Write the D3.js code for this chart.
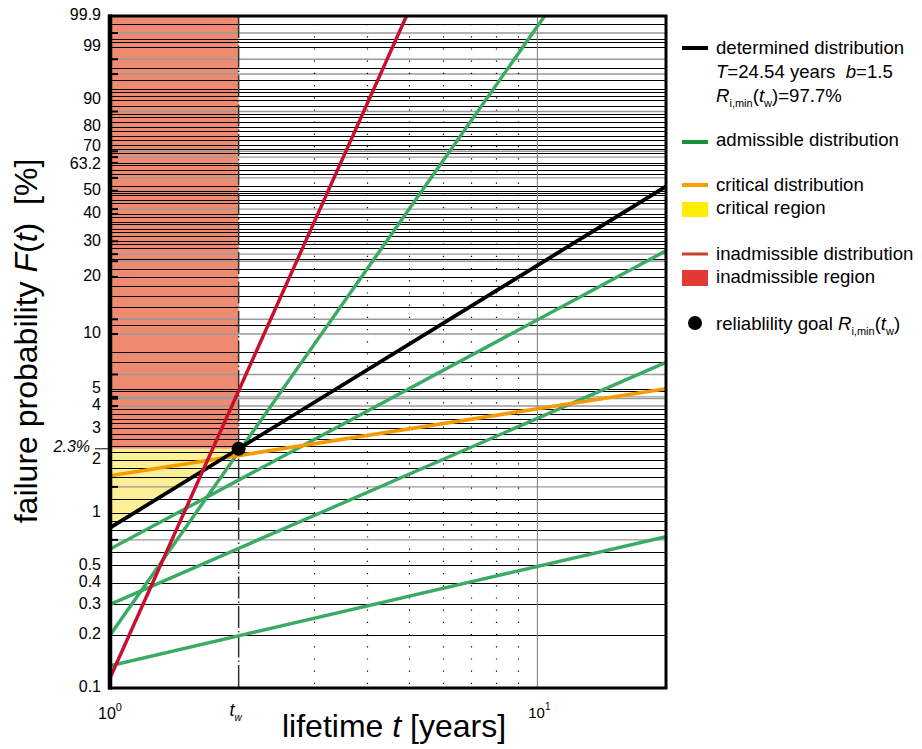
<!DOCTYPE html>
<html>
<head>
<meta charset="utf-8">
<script src="https://cdn.jsdelivr.net/npm/d3@7"></script>
<style>
  body { margin: 0; background: #fff; }
  svg { font-family: 'Liberation Sans', Arial, sans-serif; }
</style>
</head>
<body>
<svg id="chart" width="922" height="749"></svg>
<script>
// Weibull probability plot data
const yLabels = [99.9, 99, 90, 80, 70, 63.2, 50, 40, 30, 20, 10, 5, 4, 3, 2, 1, 0.5, 0.4, 0.3, 0.2, 0.1];
const gridBlack = [99.8, 99.4, 99.25, 99, 97, 95, 93, 92, 91, 90, 88, 85, 84, 82, 80, 78, 76, 74, 72, 70, 68,
    63.2, 62, 60, 58, 52, 50, 49, 48, 46, 44.5, 40, 38.7, 37, 36, 34.3, 33, 31.7, 30, 29, 27.8, 24.7, 22, 20,
    18, 16, 14, 11.2, 8, 7, 5, 4.85, 3.85, 3.6, 3.4, 3.2, 3, 2.8, 2.6, 2.4, 2.2, 2, 1.8, 1.6, 1.2, 1, 0.9,
    0.8, 0.6, 0.5, 0.4, 0.3, 0.2];
const gridGray = [99.6, 98, 96, 86, 68.8, 66, 56, 42, 26, 24, 12, 10, 6, 4.5, 4.4, 4, 1.4, 0.7];
const xDotted = [3, 4, 5, 6, 7, 8, 9];
const tw = 2;
const goalF = 2.3;

// each line: two end points [t, F%] (straight lines on Weibull paper)
const determinedLine = [[1, 0.82], [20, 52]];
const criticalLine = [[1, 1.62], [20, 5]];
const inadmissibleLine = [[1, 0.114], [4.94, 99.9]];
const admissibleLines = [
    [[1, 0.2], [10.4, 99.9]],
    [[1, 0.62], [20, 27]],
    [[1, 0.3], [20, 7]],
    [[1, 0.134], [20, 0.73]]
];

const svg = d3.select('#chart');
const pL = 110, pR = 666, pT = 16, pB = 688;

const weib = p => Math.log(-Math.log(1 - p / 100));
const xScale = d3.scaleLog().domain([1, 20]).range([pL, pR]);
const yLin = d3.scaleLinear().domain([weib(0.1), weib(99.9)]).range([pB, pT]);
const yScale = p => yLin(weib(p));

svg.append('defs').append('clipPath').attr('id', 'plot-clip')
    .append('rect').attr('x', pL).attr('y', pT)
    .attr('width', pR - pL).attr('height', pB - pT);

const g = svg.append('g');

// inadmissible region
g.append('rect')
    .attr('x', xScale(1)).attr('y', pT)
    .attr('width', xScale(tw) - xScale(1))
    .attr('height', yScale(goalF) - pT)
    .attr('fill', '#ed8a6f');

// critical region: between goal level and determined line
const blackAt = t => {
    const [a, b] = determinedLine;
    const f = (Math.log(t) - Math.log(a[0])) / (Math.log(b[0]) - Math.log(a[0]));
    return weib(a[1]) + f * (weib(b[1]) - weib(a[1]));
};
g.append('path')
    .attr('d', `M${xScale(1)},${yScale(goalF)} L${xScale(tw)},${yScale(goalF)} L${xScale(1)},${yLin(blackAt(1))} Z`)
    .attr('fill', '#fcf096');

// horizontal grid
g.selectAll('.grid-gray').data(gridGray).enter().append('line')
    .attr('x1', pL).attr('x2', pR)
    .attr('y1', d => yScale(d)).attr('y2', d => yScale(d))
    .attr('stroke', '#9a9a9a').attr('stroke-width', 1.4);
g.selectAll('.grid-black').data(gridBlack).enter().append('line')
    .attr('x1', pL).attr('x2', pR)
    .attr('y1', d => Math.round(yScale(d)) + 0.5).attr('y2', d => Math.round(yScale(d)) + 0.5)
    .attr('stroke', '#000').attr('stroke-width', 1);

// vertical grid
g.selectAll('.vdot').data(xDotted).enter().append('line')
    .attr('x1', d => Math.round(xScale(d)) + 0.5).attr('x2', d => Math.round(xScale(d)) + 0.5)
    .attr('y1', pT + 8).attr('y2', pB)
    .attr('stroke', '#000').attr('stroke-width', 1.2)
    .attr('stroke-dasharray', '1.2,11');
g.append('line')
    .attr('x1', xScale(10)).attr('x2', xScale(10))
    .attr('y1', pT).attr('y2', pB)
    .attr('stroke', '#777').attr('stroke-width', 1);
g.append('line')
    .attr('x1', xScale(tw)).attr('x2', xScale(tw))
    .attr('y1', pT).attr('y2', pB)
    .attr('stroke', '#333').attr('stroke-width', 1.5)
    .attr('stroke-dasharray', '22,3,1.5,3');

// left ticks
g.selectAll('.ytick').data(gridGray.concat([63.2, 50, 40, 30, 20])).enter().append('line')
    .attr('x1', pL).attr('x2', pL + 8)
    .attr('y1', d => yScale(d)).attr('y2', d => yScale(d))
    .attr('stroke', '#000').attr('stroke-width', 2);

// distribution lines
const line = d3.line().x(d => xScale(d[0])).y(d => yScale(d[1]));
const lines = g.append('g').attr('clip-path', 'url(#plot-clip)');
admissibleLines.forEach(l => {
    lines.append('path').datum(l).attr('d', line)
        .attr('fill', 'none').attr('stroke', '#3aaa64').attr('stroke-width', 3.4);
});
lines.append('path').datum(criticalLine).attr('d', line)
    .attr('fill', 'none').attr('stroke', '#f59a00').attr('stroke-width', 3.6);
lines.append('path').datum(determinedLine).attr('d', line)
    .attr('fill', 'none').attr('stroke', '#000').attr('stroke-width', 3.8);
lines.append('path').datum(inadmissibleLine).attr('d', line)
    .attr('fill', 'none').attr('stroke', '#c8102e').attr('stroke-width', 3.4);

// reliability goal point
g.append('circle')
    .attr('cx', xScale(tw)).attr('cy', yScale(goalF)).attr('r', 7)
    .attr('fill', '#000');

// frame
g.append('rect')
    .attr('x', pL).attr('y', pT)
    .attr('width', pR - pL).attr('height', pB - pT)
    .attr('fill', 'none').attr('stroke', '#000').attr('stroke-width', 3);
g.append('line')
    .attr('x1', pL).attr('x2', pL).attr('y1', pT - 1.5).attr('y2', pB + 1.5)
    .attr('stroke', '#000').attr('stroke-width', 4.5);

// y labels (70 / 63.2 sit tight, nudged apart as in the picture)
const nudge = { 70: -2, 63.2: 2 };
g.selectAll('.ylab').data(yLabels).enter().append('text')
    .attr('x', 101).attr('y', d => yScale(d) + (nudge[d] || 0))
    .attr('text-anchor', 'end').attr('dominant-baseline', 'middle')
    .attr('font-size', 16)
    .text(d => d);
g.append('line')
    .attr('x1', 95).attr('x2', pL).attr('y1', yScale(goalF)).attr('y2', yScale(goalF))
    .attr('stroke', '#000').attr('stroke-width', 1);
g.append('text')
    .attr('x', 90).attr('y', yScale(goalF) - 1)
    .attr('text-anchor', 'end').attr('dominant-baseline', 'middle')
    .attr('font-size', 16).attr('font-style', 'italic')
    .text(goalF + '%');

// x labels
const xl = g.append('text').attr('x', xScale(1)).attr('y', 719)
    .attr('text-anchor', 'middle').attr('font-size', 16);
xl.append('tspan').text('10');
xl.append('tspan').attr('dy', -8).attr('font-size', 11).text('0');
const xl2 = g.append('text').attr('x', xScale(10) + 2).attr('y', 718)
    .attr('text-anchor', 'middle').attr('font-size', 15);
xl2.append('tspan').text('10');
xl2.append('tspan').attr('dy', -8).attr('font-size', 10).text('1');
const twl = g.append('text').attr('x', xScale(tw) - 3).attr('y', 716)
    .attr('text-anchor', 'middle').attr('font-size', 18).attr('font-style', 'italic');
twl.append('tspan').text('t');
twl.append('tspan').attr('dy', 5).attr('font-size', 10).text('w');

// axis titles
const xt = g.append('text').attr('x', 394).attr('y', 737)
    .attr('text-anchor', 'middle').attr('font-size', 32);
xt.append('tspan').text('lifetime ');
xt.append('tspan').attr('font-style', 'italic').text('t');
xt.append('tspan').text(' [years]');

const yt = g.append('text')
    .attr('transform', 'translate(37, 341) rotate(-90)')
    .attr('text-anchor', 'middle').attr('font-size', 32);
yt.append('tspan').text('failure probability ');
yt.append('tspan').attr('font-style', 'italic').text('F');
yt.append('tspan').text('(');
yt.append('tspan').attr('font-style', 'italic').text('t');
yt.append('tspan').text(')\u00a0\u00a0[%]');

// legend
const lg = svg.append('g').attr('font-size', 18.6);
const lx = 716;
function legText(y) {
    return lg.append('text').attr('x', lx).attr('y', y).attr('dominant-baseline', 'middle');
}
function legLine(y, color, w) {
    lg.append('line').attr('x1', 682).attr('x2', 708).attr('y1', y).attr('y2', y)
        .attr('stroke', color).attr('stroke-width', w);
}
legLine(48, '#000', 4);
legText(49).text('determined distribution');
const t2 = legText(73);
t2.append('tspan').attr('font-style', 'italic').text('T');
t2.append('tspan').text('=24.54 years\u00a0\u00a0');
t2.append('tspan').attr('font-style', 'italic').text('b');
t2.append('tspan').text('=1.5');
const t3 = lg.append('text').attr('x', lx).attr('y', 102);
t3.append('tspan').attr('font-style', 'italic').text('R');
t3.append('tspan').attr('font-size', 11).attr('dy', 5).text('i,min');
t3.append('tspan').attr('dy', -5).text('(');
t3.append('tspan').attr('font-style', 'italic').text('t');
t3.append('tspan').attr('font-size', 11).attr('dy', 5).text('w');
t3.append('tspan').attr('dy', -5).text(')=97.7%');

legLine(142, '#1a8f3c', 4);
legText(141).text('admissible distribution');

legLine(185, '#f7a000', 4);
legText(186).text('critical distribution');
lg.append('rect').attr('x', 682).attr('y', 202).attr('width', 26).attr('height', 15)
    .attr('fill', '#ffee00');
legText(209).text('critical region');

legLine(254, '#c8402a', 3);
legText(255).text('inadmissible distribution');
lg.append('rect').attr('x', 682).attr('y', 270).attr('width', 26).attr('height', 16)
    .attr('fill', '#e53935');
legText(278).text('inadmissible region');

lg.append('circle').attr('cx', 695).attr('cy', 323).attr('r', 7).attr('fill', '#000');
const t4 = lg.append('text').attr('x', lx).attr('y', 330);
t4.append('tspan').text('reliablility goal ');
t4.append('tspan').attr('font-style', 'italic').text('R');
t4.append('tspan').attr('font-size', 11).attr('dy', 5).text('i,min');
t4.append('tspan').attr('dy', -5).text('(');
t4.append('tspan').attr('font-style', 'italic').text('t');
t4.append('tspan').attr('font-size', 11).attr('dy', 5).text('w');
t4.append('tspan').attr('dy', -5).text(')');
</script>
</body>
</html>
